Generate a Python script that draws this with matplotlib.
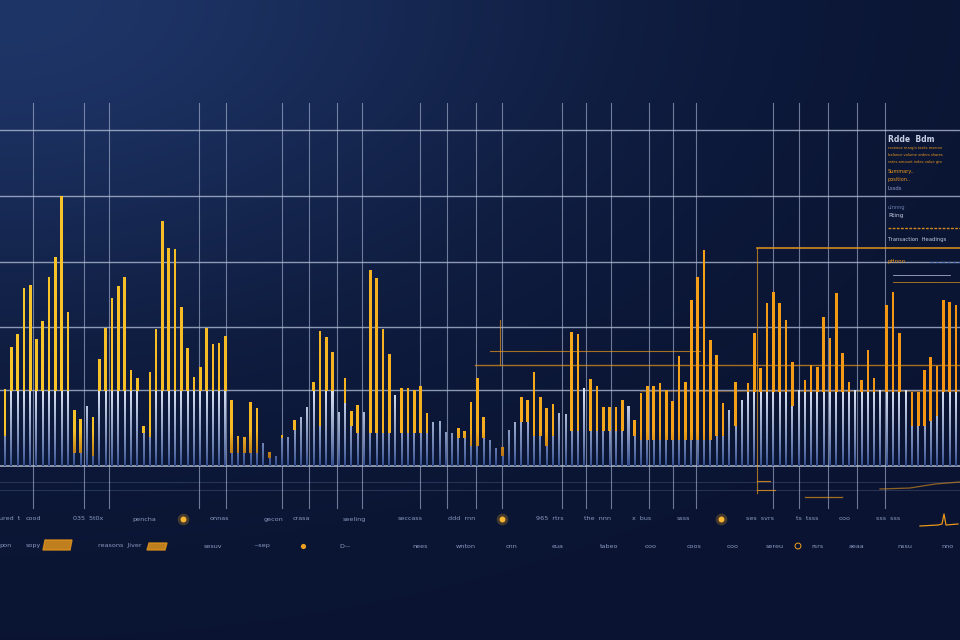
import numpy as np
import matplotlib.pyplot as plt
from matplotlib.colors import to_rgb
from matplotlib.path import Path

# light (blue-white) part of each bar, and the top of the orange part (px above baseline)
base = [30, 75, 75, 75, 75, 75, 75, 75, 75, 75, 75, 13, 13, 60, 10, 75, 75, 75, 75, 75,
        75, 75, 33, 29, 75, 75, 75, 75, 75, 75, 75, 75, 75, 75, 75, 75, 13, 13, 13, 13,
        13, 23, 8, 10, 28, 29, 36, 49, 59, 75, 40, 75, 75, 54, 63, 40, 33, 54, 33, 33,
        33, 33, 71, 33, 33, 33, 33, 33, 44, 45, 34, 33, 28, 28, 20, 20, 28, 26, 18, 10,
        36, 44, 44, 44, 30, 30, 20, 30, 53, 52, 35, 35, 78, 35, 35, 35, 35, 35, 35, 60,
        30, 26, 26, 26, 26, 26, 26, 26, 26, 26, 26, 26, 26, 30, 30, 56, 40, 66, 74, 74,
        74, 74, 74, 74, 74, 60, 76, 74, 74, 74, 74, 74, 74, 74, 74, 76, 74, 74, 74, 76,
        74, 74, 74, 76, 40, 40, 40, 45, 50, 74, 74, 74]
peak = [77, 119, 132, 178, 181, 127, 145, 189, 209, 270, 154, 56, 47, 60, 49, 107, 138, 168, 180, 189,
        96, 88, 40, 94, 137, 245, 218, 217, 159, 118, 89, 99, 138, 122, 123, 130, 66, 30, 29, 64,
        58, 23, 14, 10, 31, 29, 46, 49, 59, 84, 135, 129, 114, 54, 88, 55, 61, 54, 196, 188,
        137, 112, 71, 78, 78, 76, 80, 53, 44, 45, 34, 33, 38, 35, 64, 88, 49, 26, 18, 19,
        36, 44, 69, 66, 94, 69, 58, 62, 53, 52, 134, 132, 78, 87, 80, 59, 59, 59, 66, 60,
        46, 73, 80, 80, 83, 76, 65, 110, 84, 166, 189, 216, 126, 111, 63, 56, 84, 66, 83, 133,
        98, 163, 174, 163, 146, 104, 76, 86, 101, 99, 149, 128, 173, 113, 84, 76, 86, 116, 88, 76,
        161, 174, 133, 76, 74, 74, 96, 109, 100, 166, 164, 161]

# bottom label rows (text is illegible in the source, kept as short words)
row1_x = [10, 33, 88, 144, 219, 273, 301, 354, 410, 462, 550, 598, 642, 683, 760, 807, 845, 888]
row1_txt = ["ured  t", "cood", "035  5t0x", "pencha", "onnas", "gecon", "crasa", "seeling",
            "seccass", "ddd  rnn", "965  rtrs", "the  nnn", "x  bus", "ssss", "ses  svrs",
            "ts  tsss", "ooo", "sss  sss"]
row2_x = [5, 33, 120, 213, 262, 345, 420, 466, 511, 558, 609, 651, 694, 733, 775, 818, 856, 905, 948]
row2_txt = ["pon", "sopy", "reasons  Jiver", "sesuv", "~sep", "D\u2014", "nees", "wnton",
            "cnn", "eua", "tabeo", "ooo", "coos", "ooo", "sereu", "rsrs", "aeaa", "nssu", "nno"]
dots_x = [183, 502, 721]

# right-hand legend panel
panel_y = [139, 148, 155, 162, 172, 179, 188, 207, 215, 240, 262]
panel_txt = ["Rdde  Bdm", "revenue margin tasks reserve",
             "balance volume orders shares",
             "rates amount index value gro",
             "Summary..", "position..", "Lssds", "ulnnng", "Rting",
             "Transaction  Headings", "pHnnn"]
panel_col = ["#c8d0e6", "#e8961c", "#e8961c", "#e8961c", "#e8961c", "#e8961c",
             "#8fa0cc", "#6f80b0", "#c0cade", "#c0cade", "#e8961c"]
panel_fs = [5.5, 2.6, 2.6, 2.6, 3.6, 3.6, 3.8, 3.6, 4.2, 3.8, 4.0]

W, H = 960, 640
PITCH, X0 = 6.298, 5.0
BASE_Y, TOP_Y = 466, 100

fig = plt.figure(figsize=(9.6, 6.4), dpi=100)

# background + grid + decorations in pixel coordinates
bg = fig.add_axes([0, 0, 1, 1])
yy, xx = np.mgrid[0:H, 0:W]
w = np.exp(-((xx / W) ** 2 / 0.35 + (yy / H) ** 2 / 0.25))
c_hi, c_lo = np.array(to_rgb('#1e3567')), np.array(to_rgb('#0a1432'))
bg.imshow(c_lo + (c_hi - c_lo) * w[..., None], extent=(0, W, H, 0), aspect='auto', zorder=0)
bg.set_xlim(0, W)
bg.set_ylim(H, 0)
bg.axis('off')

for y in [130, 196, 262, 327, 390]:
    bg.plot([0, W], [y, y], color='#b8c4dc', lw=1.0, alpha=0.75, zorder=1)
bg.plot([0, W], [BASE_Y, BASE_Y], color='#c8d0e0', lw=1.2, alpha=0.8, zorder=1)
for y in [482, 490]:
    bg.plot([0, W], [y, y], color='#8090b8', lw=0.6, alpha=0.3, zorder=1)
for x in [33, 84, 109, 199, 226, 282, 309, 337, 362, 420, 447, 476, 502, 562, 586, 611,
          649, 673, 696, 773, 799, 828, 857, 885]:
    bg.plot([x, x], [103, 508], color='#b0bcd8', lw=0.8, alpha=0.6, zorder=1)

# orange annotation lines
orange = '#e8961c'
bg.plot([757, W], [248, 248], color=orange, lw=1.2, alpha=0.9, zorder=1)
bg.plot([757, 757], [248, 493], color=orange, lw=0.8, alpha=0.7, zorder=1)
bg.plot([757, 770], [481, 481], color=orange, lw=0.8, alpha=0.8, zorder=1)
bg.plot([757, 775], [490, 490], color=orange, lw=0.8, alpha=0.8, zorder=1)
bg.plot([475, W], [365, 365], color=orange, lw=1.0, alpha=0.7, zorder=1)
bg.plot([490, 700], [351, 351], color=orange, lw=0.8, alpha=0.7, zorder=1)
bg.plot([500, 500], [320, 365], color=orange, lw=0.8, alpha=0.7, zorder=1)
bg.plot([640, W], [391, 391], color=orange, lw=0.8, alpha=0.4, zorder=1)
bg.plot([805, 842], [497, 497], color=orange, lw=0.9, alpha=0.7, zorder=1)
bg.plot([880, 910, 935, 960], [489, 488, 484, 482], color=orange, lw=0.9, alpha=0.6, zorder=1)
bg.plot([888, W], [228, 228], color=orange, lw=1.0, ls=(0, (2, 1)), alpha=0.9, zorder=1)
bg.plot([930, W], [262, 262], color='#4a6fc0', lw=0.8, ls=(0, (3, 2)), alpha=0.8, zorder=1)
bg.plot([893, 950], [275, 275], color='#c8d0e6', lw=0.6, alpha=0.8, zorder=1)
bg.plot([893, W], [282, 282], color=orange, lw=0.6, alpha=0.8, zorder=1)

for y, t, c, fs in zip(panel_y, panel_txt, panel_col, panel_fs):
    bg.text(888, y, t, color=c, fontsize=fs, va='center', ha='left', zorder=3,
            fontweight='bold' if fs > 5 else 'normal')

for x, t in zip(row1_x, row1_txt):
    bg.text(x, 519, t, color='#8a9ac0', fontsize=4.6, ha='center', va='center', zorder=3)
for x, t in zip(row2_x, row2_txt):
    bg.text(x, 546, t, color='#8a9ac0', fontsize=4.6, ha='center', va='center', zorder=3)
bg.scatter(dots_x, [519] * len(dots_x), s=70, color='#f5a623', alpha=0.25, zorder=3, lw=0)
bg.scatter(dots_x, [519] * len(dots_x), s=18, color='#f8b630', zorder=4, lw=0)
bg.fill([45, 72, 70, 43], [540, 540, 550, 550], color='#e0921c', alpha=0.85, zorder=3)
bg.fill([149, 167, 165, 147], [543, 543, 550, 550], color='#e0921c', alpha=0.85, zorder=3)
bg.scatter([303], [546], s=14, color='#f0a020', zorder=3, lw=0)
bg.scatter([798], [546], s=18, facecolor='none', edgecolor='#f0a020', lw=0.7, zorder=3)
bg.plot([920, 938, 942, 944, 946, 958], [526, 525, 524, 514, 525, 524],
        color=orange, lw=0.9, zorder=3)

# bar chart
ax = fig.add_axes([0, (H - BASE_Y) / H, 1, (BASE_Y - TOP_Y) / H])
ax.patch.set_alpha(0)
ax.axis('off')
xlim = (-X0 / PITCH, (W - X0) / PITCH)
ylim = (0, BASE_Y - TOP_Y)

b = np.array(base)
p = np.array(peak)
idx = np.arange(len(b))
light_bars = ax.bar(idx, b, width=0.32, color='#9fb0d6', zorder=2)
orange_bars = ax.bar(idx, np.clip(p - b, 0, None), bottom=b, width=0.42, color='#f0a51a', zorder=3)


def clip_fill(bars, rgb, extent, z):
    paths = [r.get_path().transformed(r.get_patch_transform()) for r in bars]
    im = ax.imshow(rgb, extent=extent, origin='lower', aspect='auto', zorder=z,
                   interpolation='bilinear')
    im.set_clip_path(Path.make_compound_path(*paths), ax.transData)


t = np.linspace(0, 1, 256)[:, None, None] ** 0.8
lg = np.array(to_rgb('#2f4a8c')) + (np.array(to_rgb('#e2e9f7')) - np.array(to_rgb('#2f4a8c'))) * t
clip_fill(light_bars, np.repeat(lg, 2, axis=1), (xlim[0], xlim[1], 0, 80), 2.5)

fy = np.linspace(0, 1, 256)[:, None, None]
fx = np.linspace(0, 1, 64)[None, :, None]
yel, org, deep = (np.array(to_rgb(c)) for c in ('#f8c62a', '#f39413', '#a35f10'))
hue = yel + (org - yel) * fx
shade = np.clip(fy * 8, 0, 1)
og = deep + (hue - deep) * shade
clip_fill(orange_bars, og, (xlim[0], xlim[1], 0, 280), 3.5)

ax.set_xlim(*xlim)
ax.set_ylim(*ylim)

fig.savefig('out.png', dpi=100)
